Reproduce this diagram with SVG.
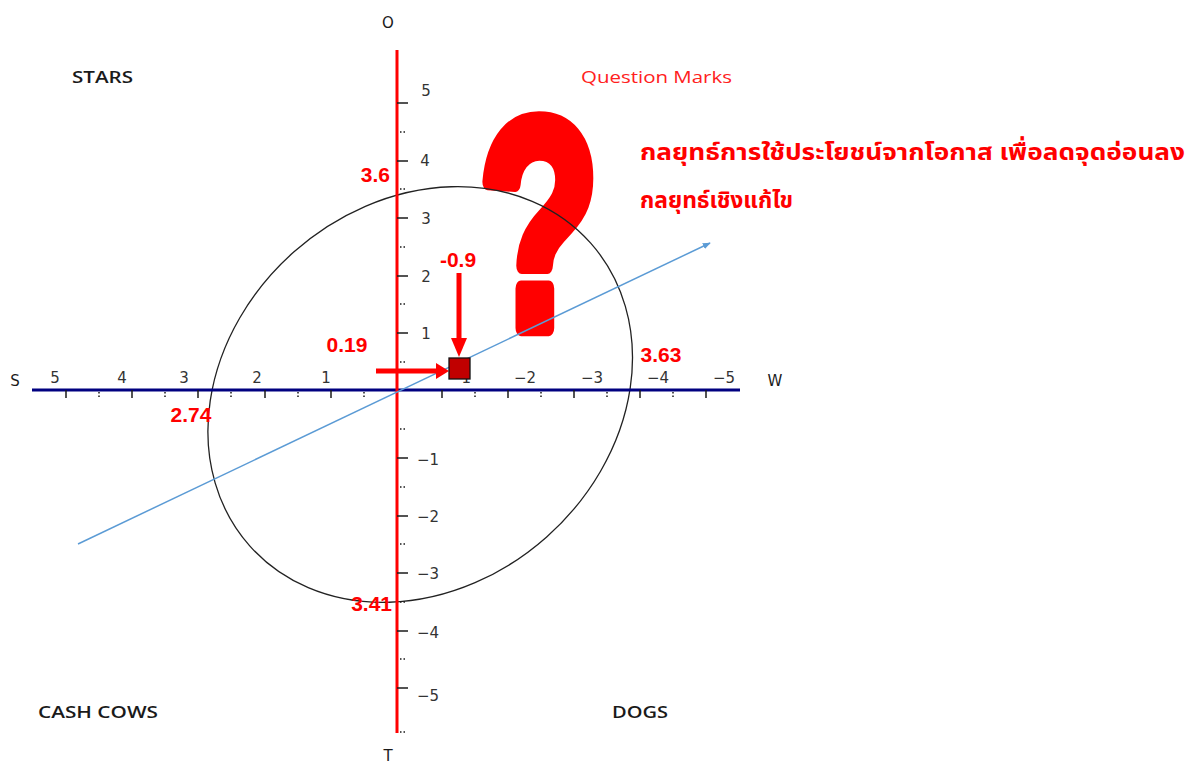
<svg xmlns="http://www.w3.org/2000/svg" width="1188" height="764" viewBox="0 0 1188 764">
<defs>
<style>
.q{font-family:"Open Sans","DejaVu Sans",sans-serif;font-size:16px;font-weight:600;fill:#1a1a1a}
.ax{font-family:"DejaVu Sans","Noto Sans",sans-serif;font-size:15px;fill:#1a1a1a;text-anchor:middle}
.n{font-family:"DejaVu Sans","Noto Sans",sans-serif;font-size:15px;fill:#333;text-anchor:middle}
.v{font-family:"Liberation Sans",Arial,sans-serif;font-size:21px;font-weight:bold;fill:#ff0000}
.th{font-family:"Noto Sans Thai","Noto Sans","DejaVu Sans",sans-serif;font-size:23px;font-weight:bold;fill:#ff0000}
.maj{stroke:#1a1a1a;stroke-width:1.5}
.min{stroke:#1a1a1a;stroke-width:1.5;stroke-dasharray:1.5 2}
</style>
<marker id="blueHead" viewBox="0 0 10 10" refX="9" refY="5" markerWidth="8" markerHeight="8" orient="auto" markerUnits="userSpaceOnUse">
<path d="M0,1 L10,5 L0,9 Z" fill="#5b9bd5"/>
</marker>
</defs>
<rect width="1188" height="764" fill="#ffffff"/>

<g id="quadrant-labels">
<text class="q" x="72" y="83" textLength="61" lengthAdjust="spacingAndGlyphs">STARS</text>
<text class="q" x="581" y="83" textLength="151" lengthAdjust="spacingAndGlyphs" style="fill:#ff2020;font-weight:500">Question Marks</text>
<text class="q" x="38" y="718" textLength="120" lengthAdjust="spacingAndGlyphs">CASH COWS</text>
<text class="q" x="612" y="718" textLength="56" lengthAdjust="spacingAndGlyphs">DOGS</text>
</g>

<g id="question-mark">
<text transform="translate(539,328) scale(0.68,1.03)" font-family="Liberation Sans, Arial, sans-serif" font-size="290" font-weight="bold" fill="#ff0000" stroke="#ff0000" stroke-width="16" stroke-linejoin="round" text-anchor="middle">?</text>
</g>

<g id="ellipse">
<ellipse cx="420.2" cy="394.5" rx="228" ry="190.5" transform="rotate(-41.6 420.2 394.5)" fill="none" stroke="#222" stroke-width="1.3"/>
</g>

<g id="horizontal-axis">
<line x1="32" y1="390" x2="740" y2="390" stroke="#000080" stroke-width="3"/>
<g class="maj">
<line x1="66" y1="390" x2="66" y2="398"/><line x1="132" y1="390" x2="132" y2="398"/><line x1="198" y1="390" x2="198" y2="398"/><line x1="265" y1="390" x2="265" y2="398"/><line x1="331" y1="390" x2="331" y2="398"/>
<line x1="442" y1="390" x2="442" y2="398"/><line x1="508" y1="390" x2="508" y2="398"/><line x1="574" y1="390" x2="574" y2="398"/><line x1="640" y1="390" x2="640" y2="398"/><line x1="706" y1="390" x2="706" y2="398"/>
</g>
<g class="min">
<line x1="99" y1="392" x2="99" y2="398"/><line x1="165" y1="392" x2="165" y2="398"/><line x1="231" y1="392" x2="231" y2="398"/><line x1="298" y1="392" x2="298" y2="398"/><line x1="364" y1="392" x2="364" y2="398"/>
<line x1="475" y1="392" x2="475" y2="398"/><line x1="541" y1="392" x2="541" y2="398"/><line x1="607" y1="392" x2="607" y2="398"/><line x1="673" y1="392" x2="673" y2="398"/>
</g>
<text class="n" x="55" y="383">5</text><text class="n" x="122" y="383">4</text><text class="n" x="184" y="383">3</text><text class="n" x="257" y="383">2</text><text class="n" x="326" y="383">1</text>
<text class="n" x="460" y="383">−1</text><text class="n" x="525" y="383">−2</text><text class="n" x="592" y="383">−3</text><text class="n" x="658" y="383">−4</text><text class="n" x="724" y="383">−5</text>
<text class="ax" x="15" y="386">S</text>
<text class="ax" x="775" y="386">W</text>
</g>

<g id="vertical-axis">
<line x1="397" y1="50" x2="397" y2="733" stroke="#ff0000" stroke-width="3"/>
<g class="maj">
<line x1="397" y1="103" x2="408" y2="103"/><line x1="397" y1="161" x2="408" y2="161"/><line x1="397" y1="218" x2="408" y2="218"/><line x1="397" y1="276" x2="408" y2="276"/><line x1="397" y1="333" x2="408" y2="333"/>
<line x1="397" y1="458" x2="408" y2="458"/><line x1="397" y1="516" x2="408" y2="516"/><line x1="397" y1="573" x2="408" y2="573"/><line x1="397" y1="631" x2="408" y2="631"/><line x1="397" y1="688" x2="408" y2="688"/>
</g>
<g class="min">
<line x1="400" y1="132" x2="406" y2="132"/><line x1="400" y1="189" x2="406" y2="189"/><line x1="400" y1="247" x2="406" y2="247"/><line x1="400" y1="304" x2="406" y2="304"/><line x1="400" y1="362" x2="406" y2="362"/>
<line x1="400" y1="429" x2="406" y2="429"/><line x1="400" y1="487" x2="406" y2="487"/><line x1="400" y1="544" x2="406" y2="544"/><line x1="400" y1="602" x2="406" y2="602"/><line x1="400" y1="659" x2="406" y2="659"/><line x1="400" y1="732" x2="406" y2="732"/>
</g>
<text class="n" x="426" y="96">5</text><text class="n" x="425" y="166">4</text><text class="n" x="426" y="224">3</text><text class="n" x="426" y="282">2</text><text class="n" x="426" y="339">1</text>
<text class="n" x="428" y="465">−1</text><text class="n" x="428" y="522">−2</text><text class="n" x="428" y="579">−3</text><text class="n" x="428" y="638">−4</text><text class="n" x="428" y="701">−5</text>
<text class="ax" x="388" y="28">O</text>
<text class="ax" x="388" y="761">T</text>
</g>

<g id="connectors">
<line x1="78" y1="544" x2="710" y2="243" stroke="#5b9bd5" stroke-width="1.5" marker-end="url(#blueHead)"/>
<line x1="376" y1="371" x2="438" y2="371" stroke="#ff0000" stroke-width="5"/>
<polygon points="436,363 449,371 436,379" fill="#ff0000"/>
<line x1="459" y1="273" x2="459" y2="340" stroke="#ff0000" stroke-width="5"/>
<polygon points="451,338 467,338 459,357" fill="#ff0000"/>
</g>

<g id="position-marker">
<rect x="449" y="358" width="21" height="21" fill="#c00000" stroke="#111" stroke-width="1.3"/>
</g>

<g id="value-labels">
<text class="v" x="390" y="182" text-anchor="end">3.6</text>
<text class="v" x="347" y="352" text-anchor="middle">0.19</text>
<text class="v" x="458" y="267" text-anchor="middle">-0.9</text>
<text class="v" x="191" y="422" text-anchor="middle">2.74</text>
<text class="v" x="661" y="362" text-anchor="middle">3.63</text>
<text class="v" x="392" y="611" text-anchor="end">3.41</text>
</g>

<g id="strategy-text">
<text class="th" x="640" y="160" textLength="545" lengthAdjust="spacingAndGlyphs">กลยุทธ์การใช้ประโยชน์จากโอกาส เพื่อลดจุดอ่อนลง</text>
<text class="th" x="640" y="208" textLength="153" lengthAdjust="spacingAndGlyphs">กลยุทธ์เชิงแก้ไข</text>
</g>
</svg>
